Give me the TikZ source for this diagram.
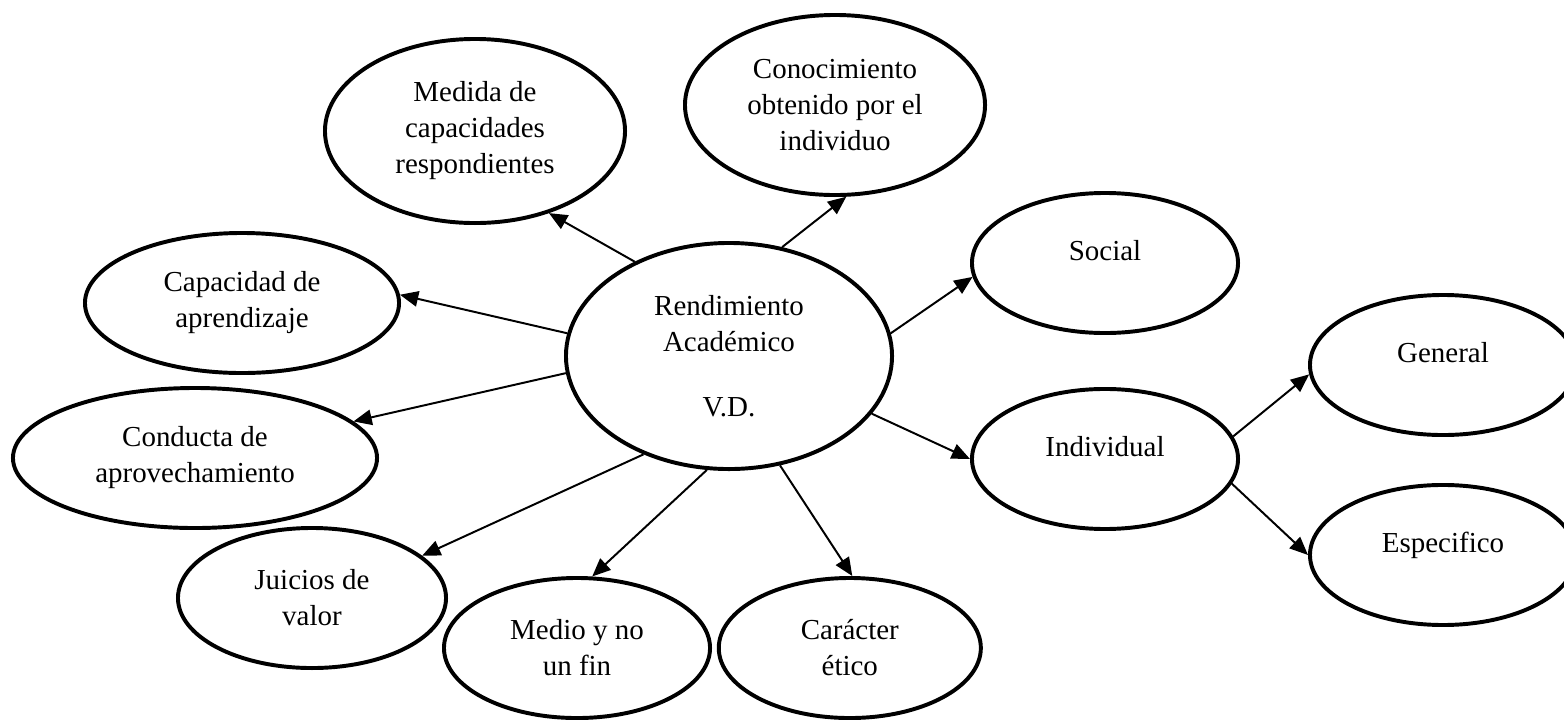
\documentclass[tikz,border=0pt]{standalone}
\usepackage{fontspec}
\setmainfont{Liberation Serif}
\usetikzlibrary{arrows.meta,%
                shapes,positioning}

\begin{document}
\begin{tikzpicture}[x = 0.025cm, y = -0.025cm]
  \useasboundingbox (0,0) rectangle (1564,719);
  \tikzset{VertexStyle/.style = {shape          = ellipse,
                                 draw,
                                 line width     = 2.8pt,
                                 text           = black,
                                 inner sep      = 0pt,
                                 align          = center,
                                 font           = {\fontsize{20.6}{25.6}\selectfont},
                                 minimum width  = 6.65cm,
                                 minimum height = 3.5cm}}
  \tikzset{OneLineStyle/.style = {text height   = 14pt,
                                  text depth    = 18pt}}
  \tikzset{EdgeStyle/.style   = {line width     = 1.4pt,
                                 -{Triangle[length = 13pt, width = 11pt]}}}
     \node[VertexStyle, minimum width = 8.15cm, minimum height = 5.65cm](Rend) at (729,356)
          {Rendimiento\\Académico\\[21pt]V.D.};
     \node[VertexStyle, minimum width = 7.5cm, minimum height = 4.6cm](Medida) at (475,131)
          {Medida de\\capacidades\\respondientes};
     \node[VertexStyle, minimum width = 7.5cm, minimum height = 4.5cm](Conoc) at (835,105)
          {Conocimiento\\obtenido por el\\individuo};
     \node[VertexStyle, minimum width = 7.85cm](Capac) at (242,303) {Capacidad de\\aprendizaje};
     \node[VertexStyle, minimum width = 9.1cm](Conducta) at (195,458) {Conducta de\\aprovechamiento};
     \node[VertexStyle, minimum width = 6.7cm](Juicios) at (312,598) {Juicios de\\valor};
     \node[VertexStyle](Medio) at (577,648) {Medio y no\\un fin};
     \node[VertexStyle, minimum width = 6.55cm, right = 0.12cm of Medio](Caracter) {Carácter\\ético};
     \node[VertexStyle, OneLineStyle](Social) at (1105,263) {Social};
     \node[VertexStyle, OneLineStyle, below = 1.3cm of Social](Indiv) {Individual};
     \node[VertexStyle, OneLineStyle](General) at (1443,365) {General};
     \node[VertexStyle, OneLineStyle, below = 1.15cm of General](Espec) {Especifico};
     % flechas
     \draw[EdgeStyle](Rend.135) -- (Medida.-48);
     \draw[EdgeStyle](Rend.64) -- (Conoc.-83);
     \draw[EdgeStyle](Rend.172) -- (Capac.3);
     \draw[EdgeStyle](Rend.-174) -- (Conducta.13);
     \draw[EdgeStyle](Rend.8) -- (Social.-174);
     \draw[EdgeStyle](Rend.-22) -- (Indiv.180);
     \draw[EdgeStyle](Rend.-131) -- (Juicios.21);
     \draw[EdgeStyle](Rend.-101) -- (Medio.78);
     \draw[EdgeStyle](Rend.-65) -- (Caracter.88);
     \draw[EdgeStyle](Indiv.10) -- (General.184);
     \draw[EdgeStyle](Indiv.-11) -- (Espec.180);
  \end{tikzpicture}
\end{document}
